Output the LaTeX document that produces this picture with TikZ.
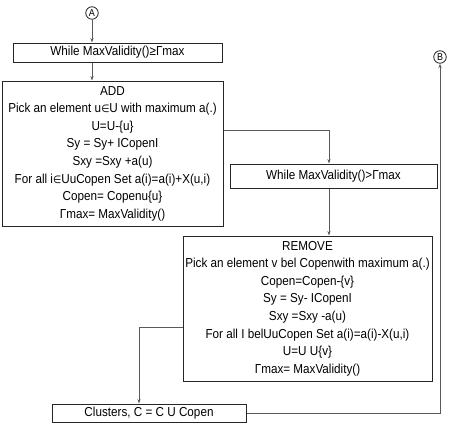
\documentclass[tikz,border=0pt]{standalone}
\usepackage{fontspec}
\setmainfont[FakeStretch=0.9]{Liberation Sans}
\newfontfamily\dv[FakeStretch=0.9]{DejaVu Sans}
\usetikzlibrary{arrows.meta}
\newcommand{\elem}{{\dv\fontsize{10.5}{10}\selectfont ∈}}
\begin{document}
\begin{tikzpicture}[x=1pt,y=-1pt,
  box/.style={draw=black!85,line width=1pt,inner sep=0pt,align=center,
    font=\fontsize{13}{17.6}\selectfont},
  conn/.style={draw=black!65,line width=0.8pt},
  arr/.style={conn,-{Stealth[length=4.5pt,width=3.2pt]}},
  lab/.style={draw=black!85,line width=0.8pt,circle,inner sep=0pt,minimum size=12.5pt,
    font=\fontsize{10}{10}\selectfont}]
\useasboundingbox (0,0) rectangle (450,426);
\node[lab] (A) at (92,13) {A};
\node[lab] (B) at (440,57) {B};
\node[box,minimum width=209pt,minimum height=19pt] (w1) at (117.5,52.5) {While MaxValidity()≥Γmax};
\node[box,minimum width=221pt,minimum height=145pt] (add) at (112.5,153.5)
  {ADD\\Pick an element u\elem U with maximum a(.)\\U=U-\{u\}\\Sy = Sy+ ICopenI\\Sxy =Sxy +a(u)\\For all i\elem UuCopen Set a(i)=a(i)+X(u,i)\\Copen= Copenu\{u\}\\Γmax= MaxValidity()};
\node[box,minimum width=207pt,minimum height=24pt] (w2) at (333.5,176) {While MaxValidity()>Γmax};
\node[box,minimum width=249pt,minimum height=145pt] (rem) at (307.5,308.5)
  {REMOVE\\Pick an element v bel Copenwith maximum a(.)\\Copen=Copen-\{v\}\\Sy = Sy- ICopenI\\Sxy =Sxy -a(u)\\For all I belUuCopen Set a(i)=a(i)-X(u,i)\\U=U U\{v\}\\Γmax= MaxValidity()};
\node[box,minimum width=194pt,minimum height=18pt] (cl) at (149,413) {Clusters, C = C U Copen};
\coordinate (k1) at (329,130);
\coordinate (k2) at (329,188);
\coordinate (k3) at (139,327);
\coordinate (k4) at (440,413);
\draw[arr] (A.south) -- (A.south |- w1.north);
\draw[arr] (A.south |- w1.south) -- (A.south |- add.north);
\draw[arr] (add.east |- k1) -- (k1) -- (k1 |- w2.north);
\draw[arr] (k2 |- w2.south) -- (k2 |- rem.north);
\draw[arr] (rem.west |- k3) -- (k3) -- (k3 |- cl.north);
\draw[arr] (cl.east) -- (k4) -- (B.south);
\end{tikzpicture}
\end{document}
